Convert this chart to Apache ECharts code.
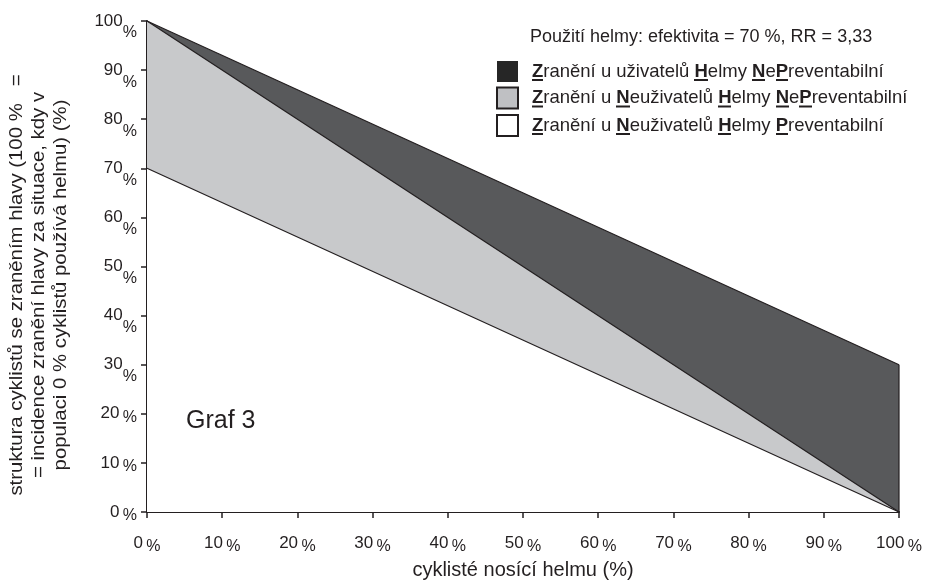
<!DOCTYPE html>
<html><head><meta charset="utf-8">
<script src="https://cdn.jsdelivr.net/npm/echarts@6/dist/echarts.min.js"></script>
<style>html,body{margin:0;padding:0;background:#fff}#c{width:928px;height:585px}</style>
</head><body><div id="c"></div>
<script>
// Data: share of helmet users (x, %) and structure of head injuries (y, %)
const xValues = [0, 100];
const preventableNonUsers = [70, 0];     // white band (bottom)
const nonPreventableNonUsers = [30, 0];  // light gray band (middle)
const nonPreventableUsers = [0, 30];     // dark gray band (top)
const seriesNames = [
  'Zranění u Neuživatelů Helmy Preventabilní',
  'Zranění u Neuživatelů Helmy NePreventabilní',
  'Zranění u uživatelů Helmy NePreventabilní'
];
const legendMarkup = {
  'Zranění u uživatelů Helmy NePreventabilní': '{u|Z}{t|ranění u uživatelů }{u|H}{t|elmy }{u|N}{t|e}{u|P}{t|reventabilní}',
  'Zranění u Neuživatelů Helmy NePreventabilní': '{u|Z}{t|ranění u }{u|N}{t|euživatelů }{u|H}{t|elmy }{u|N}{t|e}{u|P}{t|reventabilní}',
  'Zranění u Neuživatelů Helmy Preventabilní': '{u|Z}{t|ranění u }{u|N}{t|euživatelů }{u|H}{t|elmy }{u|P}{t|reventabilní}'
};
const legendTitle = 'Použití helmy: efektivita = 70 %, RR = 3,33';
const chartLabel = 'Graf 3';
const xAxisName = 'cyklisté nosící helmu (%)';
const yAxisName = 'struktura cyklistů se zraněním hlavy (100 %   =\n= incidence zranění hlavy za situace, kdy v\npopulaci 0 % cyklistů používá helmu) (%)';

const INK = '#231f20';
const FONT = '"Liberation Sans", Arial, sans-serif';

// underline image used as background of the bold underlined letters
const ul = document.createElement('canvas');
ul.width = 4; ul.height = 21;
const uctx = ul.getContext('2d');
uctx.fillStyle = INK;
uctx.fillRect(0, 18, 4, 2);

// cumulative tops of the bands
const whiteTop = preventableNonUsers.slice();
const lightTop = whiteTop.map((v, i) => v + nonPreventableNonUsers[i]);
const darkTop = lightTop.map((v, i) => v + nonPreventableUsers[i]);
const pairs = vals => xValues.map((x, i) => [x, vals[i]]);
const lastIdx = xValues.length - 1;

const chart = echarts.init(document.getElementById('c'), null, {renderer:'canvas'});
const areaSeries = (name, vals, color) => ({
  name, type:'line', data: pairs(vals), symbol:'none',
  lineStyle:{color:INK, width:1.2}, areaStyle:{color, opacity:1, origin:'start'},
  emphasis:{disabled:true}, silent:true
});
chart.setOption({
  animation:false,
  textStyle:{fontFamily:FONT},
  grid:{left:147, right:29, top:21, bottom:68, containLabel:false},
  title:{text:legendTitle, left:530, top:28, padding:0,
    textStyle:{fontSize:18, fontWeight:'normal', color:INK, fontFamily:FONT}},
  legend:{
    orient:'vertical', left:496, top:61, padding:0, itemWidth:21, itemHeight:21, itemGap:4.5, icon:'rect',
    selectedMode:false, z:20,
    data:[
      {name:seriesNames[2], itemStyle:{color:'#262626', borderWidth:0}},
      {name:seriesNames[1], itemStyle:{color:'#bfc0c3', borderColor:INK, borderWidth:2}},
      {name:seriesNames[0], itemStyle:{color:'#ffffff', borderColor:INK, borderWidth:2}}
    ],
    formatter: n => legendMarkup[n],
    textStyle:{
      padding:[0,0,0,9],
      rich:{
        t:{fontSize:18.5, color:INK, fontFamily:FONT, height:21, lineHeight:21},
        u:{fontSize:18.5, color:INK, fontFamily:FONT, fontWeight:'bold', height:21, lineHeight:21, backgroundColor:{image:ul}}
      }
    }
  },
  xAxis:{
    type:'value', min:0, max:100, interval:10,
    name:xAxisName, nameLocation:'middle', nameGap:48,
    nameTextStyle:{fontSize:20, color:INK, fontFamily:FONT},
    axisLine:{show:true, onZero:false, lineStyle:{color:INK, width:2}},
    axisTick:{show:true, length:6, lineStyle:{color:INK, width:1.5}},
    splitLine:{show:false},
    axisLabel:{margin:19, formatter: v => '{n|'+v+'} {p|%}',
      rich:{n:{fontSize:17, color:INK, fontFamily:FONT}, p:{fontSize:16, color:INK, fontFamily:FONT, padding:[8,0,0,0]}}}
  },
  yAxis:{
    type:'value', min:0, max:100, interval:10,
    axisLine:{show:true, onZero:false, lineStyle:{color:INK, width:2}},
    axisTick:{show:true, length:6, lineStyle:{color:INK, width:1.5}},
    splitLine:{show:false},
    axisLabel:{margin:10, formatter: v => v >= 30 ? '{n|'+v+'}{q|%}' : '{n|'+v+'} {p|%}',
      rich:{n:{fontSize:17, color:INK, fontFamily:FONT},
            p:{fontSize:16, color:INK, fontFamily:FONT, padding:[8,0,0,0]},
            q:{fontSize:16, color:INK, fontFamily:FONT, padding:[24,0,0,0]}}}
  },
  graphic:[
    {type:'text', x:39, y:285, rotation:Math.PI/2, scaleX:1.13, z:20,
     style:{text:yAxisName, font:'18px '+FONT, fill:INK, align:'center', verticalAlign:'middle', textAlign:'center', textVerticalAlign:'middle', lineHeight:22}},
    {type:'text', x:186, y:421, z:20,
     style:{text:chartLabel, font:'25px '+FONT, fill:INK, align:'left', verticalAlign:'middle', textAlign:'left', textVerticalAlign:'middle'}}
  ],
  series:[
    areaSeries(seriesNames[2], darkTop, '#58595b'),
    areaSeries(seriesNames[1], lightTop, '#c8c9cb'),
    areaSeries(seriesNames[0], whiteTop, '#ffffff'),
    {type:'line', data:[[xValues[lastIdx], 0], [xValues[lastIdx], darkTop[lastIdx]]], symbol:'none',
     lineStyle:{color:INK, width:1.2}, silent:true}
  ]
});
</script></body></html>
